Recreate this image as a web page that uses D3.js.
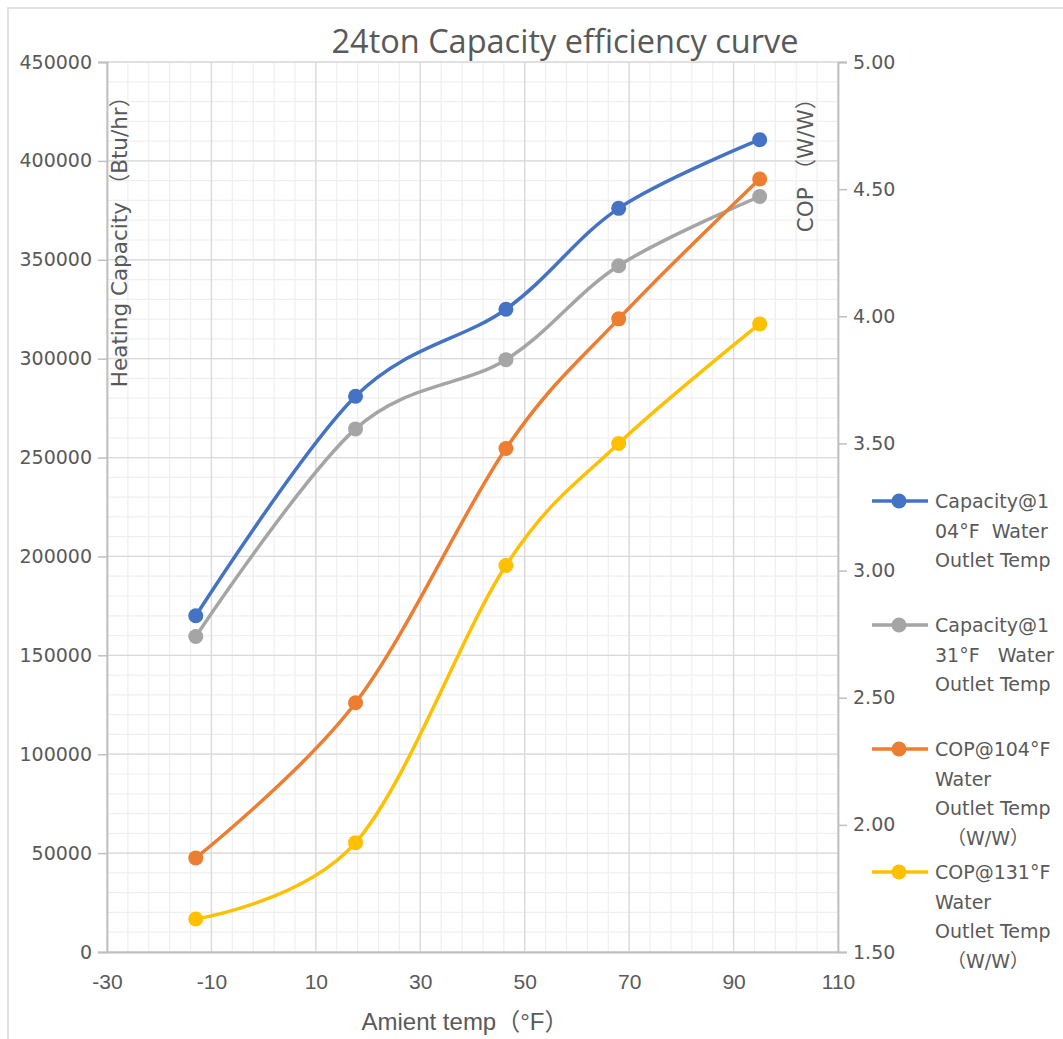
<!DOCTYPE html>
<html>
<head>
<meta charset="utf-8">
<script src="https://cdn.jsdelivr.net/npm/d3@7"></script>
<style>
html,body{margin:0;padding:0;background:#fff;}
svg{display:block;}
text{white-space:pre;}
</style>
</head>
<body>
<svg id="chart" width="1063" height="1039"></svg>
<script>
// ---- data ----
const temps = [-13, 17.6, 46.4, 68, 95];
const capacity104 = [170000, 281000, 325000, 376000, 410700];
const capacity131 = [159500, 264500, 299500, 347000, 382000];
const cop104 = [1.87, 2.48, 3.48, 3.99, 4.54];
const cop131 = [1.63, 1.93, 3.02, 3.50, 3.97];
const xTicks = [-30, -10, 10, 30, 50, 70, 90, 110];
const yLeftTicks = [0, 50000, 100000, 150000, 200000, 250000, 300000, 350000, 400000, 450000];
const yRightTicks = [1.5, 2.0, 2.5, 3.0, 3.5, 4.0, 4.5, 5.0];
const seriesNames = [
  ["Capacity@1", "04°F  Water", "Outlet Temp"],
  ["Capacity@1", "31°F   Water", "Outlet Temp"],
  ["COP@104°F", "Water", "Outlet Temp", "  （W/W）"],
  ["COP@131°F", "Water", "Outlet Temp", "  （W/W）"]
];
const seriesColors = ["#4472C4", "#A5A5A5", "#ED7D31", "#FFC000"];
const titleText = "24ton Capacity efficiency curve";
const xTitle = "Amient temp（°F）";
const yLeftTitle = "Heating Capacity （Btu/hr）";
const yRightTitle = "COP （W/W）";

// ---- layout ----
const svg = d3.select("#chart");
const L = 107, R = 838, T = 62, B = 952;
const x = d3.scaleLinear().domain([-30, 110]).range([L, R]);
const yL = d3.scaleLinear().domain([0, 450000]).range([B, T]);
const yR = d3.scaleLinear().domain([1.5, 5]).range([B, T]);
const txt = "#595959";
const tickFont = "'DejaVu Sans', sans-serif";
const narrowFont = "'Liberation Sans Narrow', 'Liberation Sans', sans-serif";

// frame
svg.append("rect").attr("x", 8).attr("y", 8).attr("width", 1200).attr("height", 1200)
  .attr("fill", "none").attr("stroke", "#d9d9d9").attr("stroke-width", 1.5);

// minor grid
const g = svg.append("g");
g.selectAll(".vmin").data(d3.range(-30, 110.01, 4)).join("line")
  .attr("x1", d => x(d)).attr("x2", d => x(d)).attr("y1", T).attr("y2", B)
  .attr("stroke", "#efefef").attr("stroke-width", 1.2);
g.selectAll(".hmin").data(d3.range(0, 450001, 10000)).join("line")
  .attr("x1", L).attr("x2", R).attr("y1", d => yL(d)).attr("y2", d => yL(d))
  .attr("stroke", "#efefef").attr("stroke-width", 1.2);
// major grid
g.selectAll(".vmaj").data(xTicks).join("line")
  .attr("x1", d => x(d)).attr("x2", d => x(d)).attr("y1", T).attr("y2", B)
  .attr("stroke", "#d9d9d9").attr("stroke-width", 1.3);
g.selectAll(".hmaj").data(yLeftTicks).join("line")
  .attr("x1", L).attr("x2", R).attr("y1", d => yL(d)).attr("y2", d => yL(d))
  .attr("stroke", "#d9d9d9").attr("stroke-width", 1.3);

// axes
const axL = svg.append("g").attr("transform", `translate(${L},0)`)
  .call(d3.axisLeft(yL).tickValues(yLeftTicks).tickFormat(d => String(d)).tickSize(9).tickPadding(6));
const axR = svg.append("g").attr("transform", `translate(${R},0)`)
  .call(d3.axisRight(yR).tickValues(yRightTicks).tickFormat(d => d.toFixed(2)).tickSize(9).tickPadding(6));
const axB = svg.append("g").attr("transform", `translate(0,${B})`)
  .call(d3.axisBottom(x).tickValues(xTicks).tickFormat(d => String(d)).tickSize(0).tickPadding(22));
[axL, axR, axB].forEach(a => {
  a.select(".domain").attr("stroke", "#bfbfbf").attr("stroke-width", 1.8);
  a.selectAll(".tick line").attr("stroke", "#bfbfbf").attr("stroke-width", 1.5);
  a.selectAll(".tick text").attr("fill", txt).attr("font-size", 19).attr("font-family", tickFont);
});
axB.selectAll(".tick text").attr("font-family", narrowFont).attr("font-size", 21);

// titles
svg.append("text").attr("x", 565).attr("y", 53).attr("text-anchor", "middle")
  .attr("font-family", "'Open Sans', sans-serif").attr("font-size", 32.5).attr("fill", txt).text(titleText);
svg.append("text").attr("x", 465).attr("y", 1030).attr("text-anchor", "middle")
  .attr("font-family", narrowFont + ", 'Noto Sans CJK SC'").attr("font-size", 24).attr("fill", txt).text(xTitle);
svg.append("text").attr("transform", "translate(127,236.5) rotate(-90)").attr("text-anchor", "middle")
  .attr("font-family", tickFont + ", 'Noto Sans CJK SC'").attr("font-size", 21.5).attr("fill", txt).text(yLeftTitle);
svg.append("text").attr("transform", "translate(813,160) rotate(-90)").attr("text-anchor", "middle")
  .attr("font-family", tickFont + ", 'Noto Sans CJK SC'").attr("font-size", 21.5).attr("fill", txt).text(yRightTitle);

// series
const series = [
  {vals: capacity104, y: yL},
  {vals: capacity131, y: yL},
  {vals: cop104, y: yR},
  {vals: cop131, y: yR}
];
const line = d3.line().curve(d3.curveCatmullRom.alpha(0));
series.forEach((s, i) => {
  const pts = temps.map((t, j) => [x(t), s.y(s.vals[j])]);
  svg.append("path").attr("d", line(pts)).attr("fill", "none")
    .attr("stroke", seriesColors[i]).attr("stroke-width", 3.5).attr("stroke-linecap", "round");
  svg.append("g").selectAll("circle").data(pts).join("circle")
    .attr("cx", d => d[0]).attr("cy", d => d[1]).attr("r", 7.5).attr("fill", seriesColors[i]);
});

// legend
const legY = [501, 625, 749, 872];
seriesNames.forEach((lines, i) => {
  const lg = svg.append("g").attr("transform", `translate(0,${legY[i]})`);
  lg.append("line").attr("x1", 872).attr("x2", 928).attr("y1", 0).attr("y2", 0)
    .attr("stroke", seriesColors[i]).attr("stroke-width", 3.5);
  lg.append("circle").attr("cx", 899).attr("cy", 0).attr("r", 7.5).attr("fill", seriesColors[i]);
  const t = lg.append("text").attr("x", 935).attr("y", 7).attr("font-family", tickFont + ", 'Noto Sans CJK SC'")
    .attr("font-size", 19).attr("fill", txt);
  lines.forEach((ln, k) => {
    t.append("tspan").attr("x", 935).attr("dy", k === 0 ? 0 : 29.7).text(ln);
  });
});
</script>
</body>
</html>
